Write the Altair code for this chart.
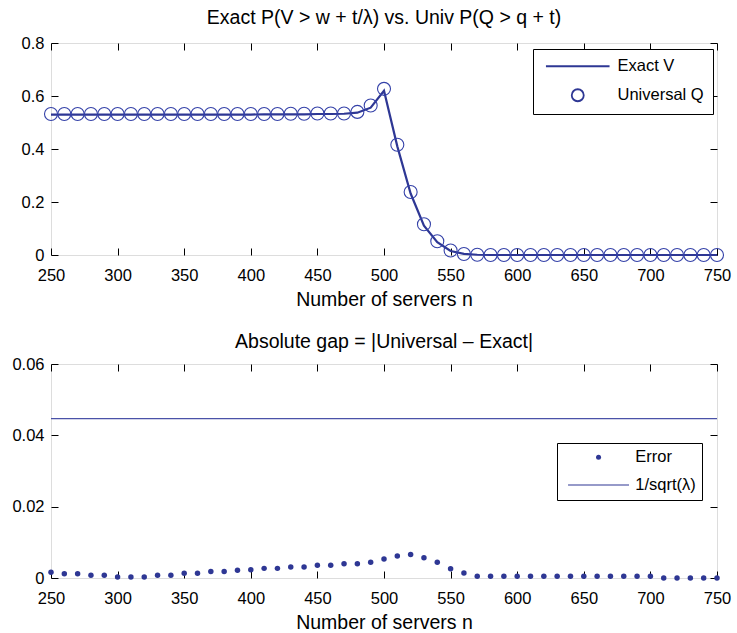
import altair as alt
import pandas as pd

# ---------------- data ----------------
n_vals = [250, 260, 270, 280, 290, 300, 310, 320, 330, 340, 350, 360, 370, 380, 390,
          400, 410, 420, 430, 440, 450, 460, 470, 480, 490, 500, 510, 520, 530, 540,
          550, 560, 570, 580, 590, 600, 610, 620, 630, 640, 650, 660, 670, 680, 690,
          700, 710, 720, 730, 740, 750]

exact_v = [0.530, 0.530, 0.530, 0.530, 0.530, 0.530, 0.530, 0.530, 0.530, 0.530,
           0.530, 0.530, 0.530, 0.530, 0.530, 0.530, 0.531, 0.531, 0.531, 0.531,
           0.532, 0.532, 0.533, 0.537, 0.556, 0.620, 0.410, 0.232, 0.111, 0.048,
           0.015, 0.004, 0.001, 0.0, 0.0, 0.0, 0.0, 0.0, 0.0, 0.0,
           0.0, 0.0, 0.0, 0.0, 0.0, 0.0, 0.0, 0.0, 0.0, 0.0, 0.0]

universal_q = [0.532, 0.532, 0.532, 0.532, 0.532, 0.532, 0.532, 0.532, 0.532, 0.532,
               0.532, 0.532, 0.532, 0.532, 0.532, 0.532, 0.532, 0.532, 0.533, 0.533,
               0.534, 0.534, 0.534, 0.540, 0.564, 0.627, 0.416, 0.238, 0.116, 0.052,
               0.017, 0.004, 0.001, 0.0, 0.0, 0.0, 0.0, 0.0, 0.0, 0.0,
               0.0, 0.0, 0.0, 0.0, 0.0, 0.0, 0.0, 0.0, 0.0, 0.0, 0.0]

abs_gap = [0.0016, 0.0012, 0.0012, 0.0008, 0.0008, 0.0003, 0.0003, 0.0003, 0.0008, 0.0008,
           0.0013, 0.0013, 0.0018, 0.0018, 0.0022, 0.0023, 0.0027, 0.0027, 0.0031, 0.0031,
           0.0036, 0.0036, 0.0040, 0.0040, 0.0044, 0.0053, 0.0062, 0.0066, 0.0057, 0.0044,
           0.0026, 0.0014, 0.0005, 0.0005, 0.0005, 0.0005, 0.0005, 0.0005, 0.0005, 0.0005,
           0.0005, 0.0005, 0.0005, 0.0005, 0.0005, 0.0005, 0.0, 0.0, 0.0, 0.0, 0.0]

inv_sqrt_lambda = 0.0447
ref_n = [250, 750]

x_ticks = [250, 300, 350, 400, 450, 500, 550, 600, 650, 700, 750]
top_y_ticks = [0, 0.2, 0.4, 0.6, 0.8]
bot_y_ticks = [0, 0.02, 0.04, 0.06]

top_legend_labels = ["Exact V", "Universal Q"]
bot_legend_labels = ["Error", "1/sqrt(λ)"]

# ---------------- styling ----------------
FONT = "Liberation Sans"
BLUE = "#2e3794"
CIRCLE_BLUE = "#3441a8"
REF_BLUE = "#4a52a8"
TICK = 7
LABEL_FS = 16.5
TITLE_FS = 19.5

df_exact = pd.DataFrame({"n": n_vals, "p": exact_v, "series": top_legend_labels[0]})
df_univ = pd.DataFrame({"n": n_vals, "p": universal_q, "series": top_legend_labels[1]})
df_gap = pd.DataFrame({"n": n_vals, "g": abs_gap, "kind": bot_legend_labels[0]})
df_ref = pd.DataFrame({"n": ref_n, "g": [inv_sqrt_lambda] * len(ref_n), "kind": bot_legend_labels[1]})

xscale = alt.Scale(domain=[250, 750], nice=False, zero=False)


def axis(orient, values, title=None, fmt=None, labels=True):
    kw = dict(orient=orient, values=values, offset=-TICK, tickSize=TICK, tickColor="black",
              tickWidth=1, domain=False, grid=False, labels=labels,
              labelFont=FONT, labelFontSize=LABEL_FS, labelColor="black",
              labelFlush=False, labelOverlap=False,
              titleFont=FONT, titleFontSize=TITLE_FS, titleFontWeight="normal", titleColor="black")
    if title is not None:
        kw["title"] = title
        kw["titlePadding"] = 7
    else:
        kw["title"] = None
    if fmt is not None:
        kw["format"] = fmt
    if orient in ("bottom", "top"):
        kw["labelPadding"] = 12
    else:
        kw["labelPadding"] = 7
    return alt.Axis(**kw)


# ---------------- top panel ----------------
top_yscale = alt.Scale(domain=[0, 0.8], nice=False)

top_line = alt.Chart(df_exact).mark_line(color=BLUE, strokeWidth=2.2).encode(
    x=alt.X("n:Q", scale=xscale, axis=axis("bottom", x_ticks, "Number of servers n")),
    y=alt.Y("p:Q", scale=top_yscale, axis=axis("left", top_y_ticks, fmt=".1~f")),
)

top_pts = alt.Chart(df_univ).mark_point(filled=False, color=CIRCLE_BLUE, size=169, strokeWidth=1.1, opacity=1).encode(
    x=alt.X("n:Q", scale=xscale, axis=axis("top", x_ticks, labels=False)),
    y=alt.Y("p:Q", scale=top_yscale, axis=axis("right", top_y_ticks, labels=False)),
    shape=alt.Shape(
        "series:N",
        scale=alt.Scale(domain=top_legend_labels, range=["M-5.3,0H5.3", "circle"]),
        legend=alt.Legend(
            title=None, orient="none", legendX=482, legendY=6,
            strokeColor="black", fillColor="white", padding=9,
            symbolSize=144, symbolStrokeColor=BLUE, symbolFillColor="transparent",
            symbolStrokeWidth=1.8, symbolOffset=27.5, labelOffset=31.5,
            rowPadding=10, labelFont=FONT, labelFontSize=LABEL_FS, labelColor="black",
        ),
    ),
)

top = alt.layer(top_line, top_pts).resolve_axis(x="independent", y="independent").properties(
    width=666, height=212,
    title=alt.TitleParams("Exact P(V > w + t/λ) vs. Univ P(Q > q + t)", font=FONT, fontSize=TITLE_FS,
                          fontWeight="normal", color="black", offset=7),
)

# ---------------- bottom panel ----------------
bot_yscale = alt.Scale(domain=[0, 0.06], nice=False)

# legend symbol for the reference line: a thin filled bar (legend strokes are suppressed for filled points)
ref_symbol = "M-12.2,-0.22H12.2V0.22H-12.2Z"

bot_pts = alt.Chart(df_gap).mark_point(filled=True, color=BLUE, size=30, opacity=1).encode(
    x=alt.X("n:Q", scale=xscale, axis=axis("bottom", x_ticks, "Number of servers n")),
    y=alt.Y("g:Q", scale=bot_yscale, axis=axis("left", bot_y_ticks, fmt=".2~f")),
    shape=alt.Shape(
        "kind:N",
        scale=alt.Scale(domain=bot_legend_labels, range=["circle", ref_symbol]),
        legend=alt.Legend(
            title=None, orient="none", legendX=506, legendY=79,
            strokeColor="black", fillColor="white", padding=6,
            symbolSize=25, symbolFillColor=BLUE,
            symbolOffset=27.3, labelOffset=28.5,
            rowPadding=10.8, labelFont=FONT, labelFontSize=LABEL_FS, labelColor="black",
        ),
    ),
)

bot_ref = alt.Chart(df_ref).mark_line(color=REF_BLUE, strokeWidth=1.2).encode(
    x=alt.X("n:Q", scale=xscale, axis=axis("top", x_ticks, labels=False)),
    y=alt.Y("g:Q", scale=bot_yscale, axis=axis("right", bot_y_ticks, labels=False)),
)

bottom = alt.layer(bot_pts, bot_ref).resolve_axis(x="independent", y="independent").properties(
    width=666, height=214,
    title=alt.TitleParams("Absolute gap = |Universal – Exact|", font=FONT, fontSize=TITLE_FS,
                          fontWeight="normal", color="black", offset=4),
)

chart = alt.vconcat(top, bottom, spacing=21).resolve_scale(
    x="independent", y="independent", shape="independent"
).resolve_legend(shape="independent").properties(
    padding={"left": 11, "top": 7, "right": 5, "bottom": 0}
).configure_view(stroke="black", strokeWidth=1.5).configure(background="white")

chart.save("out.html", embed_options={"renderer": "svg", "actions": False})
